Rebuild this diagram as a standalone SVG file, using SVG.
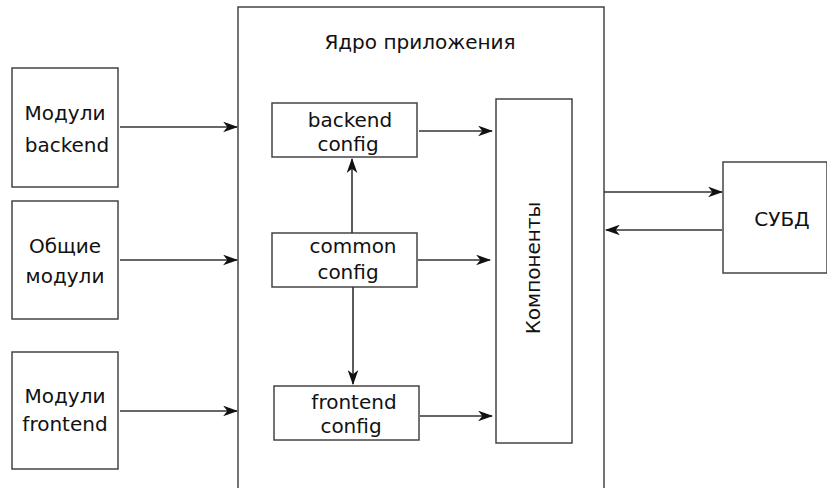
<svg xmlns="http://www.w3.org/2000/svg" width="827" height="488" viewBox="0 0 827 488">
  <defs>
    <style>
      .box { fill: #ffffff; stroke: #444444; stroke-width: 1.5; }
      .edge { fill: none; stroke: #333333; stroke-width: 1.6; }
      text { font-family: "DejaVu Sans", "Noto Sans", sans-serif; font-size: 20px; fill: #111111; text-anchor: middle; }
    </style>
    <marker id="arrow" viewBox="0 0 14 10" refX="13" refY="5" markerWidth="15" markerHeight="11" markerUnits="userSpaceOnUse" orient="auto">
      <path d="M0,0 L14,5 L0,10 L4,5 Z" fill="#111111"/>
    </marker>
  </defs>
  <rect width="827" height="488" fill="#ffffff"/>

  <!-- application core container -->
  <g id="core">
    <rect class="box" x="238" y="7" width="366" height="484"/>
    <text x="420" y="49">Ядро приложения</text>
  </g>

  <g id="mod-backend">
    <rect class="box" x="12" y="68" width="106" height="119"/>
    <text x="65" y="120">Модули</text>
    <text x="67" y="152">backend</text>
  </g>
  <g id="mod-common">
    <rect class="box" x="12" y="201" width="106" height="118"/>
    <text x="65" y="253">Общие</text>
    <text x="65" y="283">модули</text>
  </g>
  <g id="mod-frontend">
    <rect class="box" x="12" y="352" width="106" height="117"/>
    <text x="65" y="403">Модули</text>
    <text x="65" y="431">frontend</text>
  </g>

  <g id="backend-config">
    <rect class="box" x="272" y="103" width="145" height="54"/>
    <text x="350" y="127">backend</text>
    <text x="348" y="151">config</text>
  </g>
  <g id="common-config">
    <rect class="box" x="272" y="233" width="145" height="54"/>
    <text x="353" y="253">common</text>
    <text x="348" y="279">config</text>
  </g>
  <g id="frontend-config">
    <rect class="box" x="274" y="386" width="145" height="54"/>
    <text x="354" y="409">frontend</text>
    <text x="351" y="433">config</text>
  </g>

  <g id="components">
    <rect class="box" x="496" y="99" width="76" height="344"/>
    <text x="0" y="0" transform="translate(540 268) rotate(-90)">Компоненты</text>
  </g>

  <g id="dbms">
    <rect class="box" x="723" y="162" width="104" height="111"/>
    <text x="782" y="226">СУБД</text>
  </g>

  <g id="connectors">
    <line class="edge" x1="120" y1="127" x2="237" y2="127" marker-end="url(#arrow)"/>
    <line class="edge" x1="120" y1="260" x2="237" y2="260" marker-end="url(#arrow)"/>
    <line class="edge" x1="120" y1="411" x2="237" y2="411" marker-end="url(#arrow)"/>
    <line class="edge" x1="419" y1="131" x2="492" y2="131" marker-end="url(#arrow)"/>
    <line class="edge" x1="418" y1="260" x2="490" y2="260" marker-end="url(#arrow)"/>
    <line class="edge" x1="420" y1="416" x2="492" y2="416" marker-end="url(#arrow)"/>
    <line class="edge" x1="352" y1="233" x2="352" y2="159" marker-end="url(#arrow)"/>
    <line class="edge" x1="353" y1="287" x2="353" y2="384" marker-end="url(#arrow)"/>
    <line class="edge" x1="604" y1="192" x2="722" y2="192" marker-end="url(#arrow)"/>
    <line class="edge" x1="722" y1="230" x2="606" y2="230" marker-end="url(#arrow)"/>
  </g>
</svg>
